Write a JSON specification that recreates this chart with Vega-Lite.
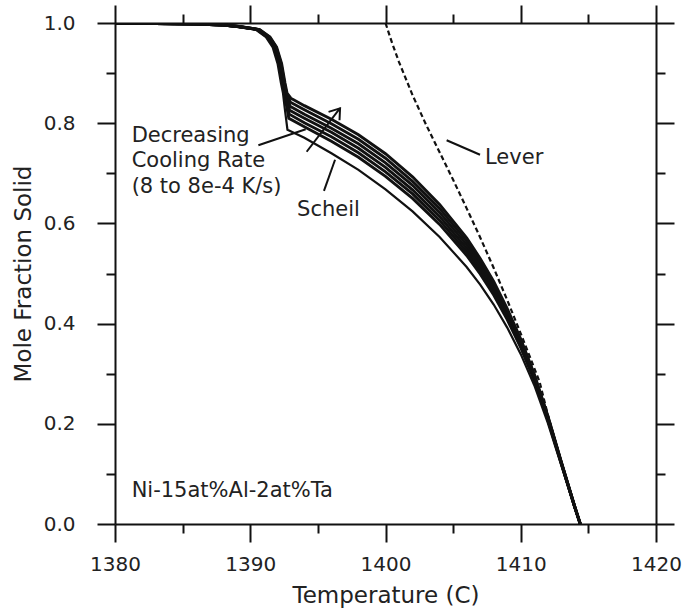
{
  "$schema": "https://vega.github.io/schema/vega-lite/v6.json",
  "width": 541,
  "height": 501,
  "autosize": {"type": "none"},
  "padding": {"left": 115, "top": 23, "right": 34, "bottom": 88},
  "background": "white",
  "config": {
    "font": "DejaVu Sans",
    "view": {"stroke": null},
    "axis": {
      "grid": false,
      "domainColor": "#111",
      "domainWidth": 2,
      "tickColor": "#111",
      "tickWidth": 2,
      "labelFontSize": 20,
      "labelColor": "#222",
      "labelFont": "DejaVu Sans",
      "titleFont": "DejaVu Sans",
      "titleFontSize": 23,
      "titleFontWeight": "normal",
      "titleColor": "#222",
      "labelOverlap": false,
      "labelFlush": false
    }
  },
  "datasets": {
    "curves": [
      {"s":"c0","T":1380,"fs":1},{"s":"c0","T":1383,"fs":0.999},{"s":"c0","T":1386,"fs":0.998},{"s":"c0","T":1388,"fs":0.996},{"s":"c0","T":1389.0,"fs":0.993},{"s":"c0","T":1390.5,"fs":0.987},{"s":"c0","T":1391.26,"fs":0.972},{"s":"c0","T":1391.75,"fs":0.952},{"s":"c0","T":1392.12,"fs":0.919},{"s":"c0","T":1392.37,"fs":0.88},{"s":"c0","T":1392.52,"fs":0.86},{"s":"c0","T":1392.85,"fs":0.81},{"s":"c0","T":1394,"fs":0.793},{"s":"c0","T":1396,"fs":0.764},{"s":"c0","T":1398,"fs":0.732},{"s":"c0","T":1400,"fs":0.694},{"s":"c0","T":1402,"fs":0.65},{"s":"c0","T":1404,"fs":0.598},{"s":"c0","T":1406,"fs":0.536},{"s":"c0","T":1407,"fs":0.499},{"s":"c0","T":1408,"fs":0.457},{"s":"c0","T":1409,"fs":0.408},{"s":"c0","T":1410,"fs":0.352},{"s":"c0","T":1411,"fs":0.287},{"s":"c0","T":1412,"fs":0.208},{"s":"c0","T":1413,"fs":0.12},{"s":"c0","T":1414,"fs":0.033},{"s":"c0","T":1414.4,"fs":0},
      {"s":"c1","T":1380,"fs":1},{"s":"c1","T":1383,"fs":0.999},{"s":"c1","T":1386,"fs":0.998},{"s":"c1","T":1388,"fs":0.996},{"s":"c1","T":1389.04,"fs":0.993},{"s":"c1","T":1390.54,"fs":0.987},{"s":"c1","T":1391.3,"fs":0.972},{"s":"c1","T":1391.79,"fs":0.952},{"s":"c1","T":1392.16,"fs":0.919},{"s":"c1","T":1392.41,"fs":0.88},{"s":"c1","T":1392.56,"fs":0.86},{"s":"c1","T":1392.88,"fs":0.818},{"s":"c1","T":1394,"fs":0.801},{"s":"c1","T":1396,"fs":0.773},{"s":"c1","T":1398,"fs":0.741},{"s":"c1","T":1400,"fs":0.703},{"s":"c1","T":1402,"fs":0.659},{"s":"c1","T":1404,"fs":0.606},{"s":"c1","T":1406,"fs":0.543},{"s":"c1","T":1407,"fs":0.505},{"s":"c1","T":1408,"fs":0.462},{"s":"c1","T":1409,"fs":0.412},{"s":"c1","T":1410,"fs":0.355},{"s":"c1","T":1411,"fs":0.289},{"s":"c1","T":1412,"fs":0.21},{"s":"c1","T":1413,"fs":0.121},{"s":"c1","T":1414,"fs":0.033},{"s":"c1","T":1414.4,"fs":0},
      {"s":"c2","T":1380,"fs":1},{"s":"c2","T":1383,"fs":0.999},{"s":"c2","T":1386,"fs":0.998},{"s":"c2","T":1388,"fs":0.996},{"s":"c2","T":1389.08,"fs":0.993},{"s":"c2","T":1390.58,"fs":0.987},{"s":"c2","T":1391.34,"fs":0.972},{"s":"c2","T":1391.83,"fs":0.952},{"s":"c2","T":1392.2,"fs":0.919},{"s":"c2","T":1392.45,"fs":0.88},{"s":"c2","T":1392.6,"fs":0.86},{"s":"c2","T":1392.91,"fs":0.826},{"s":"c2","T":1394,"fs":0.81},{"s":"c2","T":1396,"fs":0.782},{"s":"c2","T":1398,"fs":0.75},{"s":"c2","T":1400,"fs":0.712},{"s":"c2","T":1402,"fs":0.667},{"s":"c2","T":1404,"fs":0.614},{"s":"c2","T":1406,"fs":0.55},{"s":"c2","T":1407,"fs":0.511},{"s":"c2","T":1408,"fs":0.468},{"s":"c2","T":1409,"fs":0.417},{"s":"c2","T":1410,"fs":0.359},{"s":"c2","T":1411,"fs":0.292},{"s":"c2","T":1412,"fs":0.211},{"s":"c2","T":1413,"fs":0.122},{"s":"c2","T":1414,"fs":0.033},{"s":"c2","T":1414.4,"fs":0},
      {"s":"c3","T":1380,"fs":1},{"s":"c3","T":1383,"fs":0.999},{"s":"c3","T":1386,"fs":0.998},{"s":"c3","T":1388,"fs":0.996},{"s":"c3","T":1389.12,"fs":0.993},{"s":"c3","T":1390.62,"fs":0.987},{"s":"c3","T":1391.38,"fs":0.972},{"s":"c3","T":1391.87,"fs":0.952},{"s":"c3","T":1392.24,"fs":0.919},{"s":"c3","T":1392.49,"fs":0.88},{"s":"c3","T":1392.64,"fs":0.86},{"s":"c3","T":1392.94,"fs":0.834},{"s":"c3","T":1394,"fs":0.818},{"s":"c3","T":1396,"fs":0.79},{"s":"c3","T":1398,"fs":0.759},{"s":"c3","T":1400,"fs":0.721},{"s":"c3","T":1402,"fs":0.676},{"s":"c3","T":1404,"fs":0.622},{"s":"c3","T":1406,"fs":0.557},{"s":"c3","T":1407,"fs":0.518},{"s":"c3","T":1408,"fs":0.473},{"s":"c3","T":1409,"fs":0.421},{"s":"c3","T":1410,"fs":0.362},{"s":"c3","T":1411,"fs":0.294},{"s":"c3","T":1412,"fs":0.213},{"s":"c3","T":1413,"fs":0.122},{"s":"c3","T":1414,"fs":0.034},{"s":"c3","T":1414.4,"fs":0},
      {"s":"c4","T":1380,"fs":1},{"s":"c4","T":1383,"fs":0.999},{"s":"c4","T":1386,"fs":0.998},{"s":"c4","T":1388,"fs":0.996},{"s":"c4","T":1389.16,"fs":0.993},{"s":"c4","T":1390.66,"fs":0.987},{"s":"c4","T":1391.42,"fs":0.972},{"s":"c4","T":1391.91,"fs":0.952},{"s":"c4","T":1392.28,"fs":0.919},{"s":"c4","T":1392.53,"fs":0.88},{"s":"c4","T":1392.68,"fs":0.86},{"s":"c4","T":1392.97,"fs":0.842},{"s":"c4","T":1394,"fs":0.827},{"s":"c4","T":1396,"fs":0.799},{"s":"c4","T":1398,"fs":0.768},{"s":"c4","T":1400,"fs":0.73},{"s":"c4","T":1402,"fs":0.684},{"s":"c4","T":1404,"fs":0.63},{"s":"c4","T":1406,"fs":0.564},{"s":"c4","T":1407,"fs":0.524},{"s":"c4","T":1408,"fs":0.479},{"s":"c4","T":1409,"fs":0.426},{"s":"c4","T":1410,"fs":0.366},{"s":"c4","T":1411,"fs":0.297},{"s":"c4","T":1412,"fs":0.214},{"s":"c4","T":1413,"fs":0.123},{"s":"c4","T":1414,"fs":0.034},{"s":"c4","T":1414.4,"fs":0},
      {"s":"c5","T":1380,"fs":1},{"s":"c5","T":1383,"fs":0.999},{"s":"c5","T":1386,"fs":0.998},{"s":"c5","T":1388,"fs":0.996},{"s":"c5","T":1389.2,"fs":0.993},{"s":"c5","T":1390.7,"fs":0.987},{"s":"c5","T":1391.46,"fs":0.972},{"s":"c5","T":1391.95,"fs":0.952},{"s":"c5","T":1392.32,"fs":0.919},{"s":"c5","T":1392.57,"fs":0.88},{"s":"c5","T":1392.72,"fs":0.86},{"s":"c5","T":1393.0,"fs":0.85},{"s":"c5","T":1394,"fs":0.835},{"s":"c5","T":1396,"fs":0.808},{"s":"c5","T":1398,"fs":0.777},{"s":"c5","T":1400,"fs":0.739},{"s":"c5","T":1402,"fs":0.693},{"s":"c5","T":1404,"fs":0.638},{"s":"c5","T":1406,"fs":0.571},{"s":"c5","T":1407,"fs":0.53},{"s":"c5","T":1408,"fs":0.484},{"s":"c5","T":1409,"fs":0.43},{"s":"c5","T":1410,"fs":0.369},{"s":"c5","T":1411,"fs":0.299},{"s":"c5","T":1412,"fs":0.216},{"s":"c5","T":1413,"fs":0.124},{"s":"c5","T":1414,"fs":0.034},{"s":"c5","T":1414.4,"fs":0},
      {"s":"scheil","T":1380,"fs":1},{"s":"scheil","T":1383,"fs":0.999},{"s":"scheil","T":1386,"fs":0.998},{"s":"scheil","T":1388,"fs":0.996},{"s":"scheil","T":1388.9,"fs":0.993},{"s":"scheil","T":1390.4,"fs":0.987},{"s":"scheil","T":1391.16,"fs":0.972},{"s":"scheil","T":1391.65,"fs":0.952},{"s":"scheil","T":1392.02,"fs":0.919},{"s":"scheil","T":1392.27,"fs":0.88},{"s":"scheil","T":1392.42,"fs":0.86},{"s":"scheil","T":1392.55,"fs":0.83},{"s":"scheil","T":1392.75,"fs":0.787},{"s":"scheil","T":1394,"fs":0.771},{"s":"scheil","T":1396,"fs":0.74},{"s":"scheil","T":1398,"fs":0.707},{"s":"scheil","T":1400,"fs":0.668},{"s":"scheil","T":1402,"fs":0.624},{"s":"scheil","T":1404,"fs":0.573},{"s":"scheil","T":1406,"fs":0.513},{"s":"scheil","T":1407,"fs":0.478},{"s":"scheil","T":1408,"fs":0.438},{"s":"scheil","T":1409,"fs":0.392},{"s":"scheil","T":1410,"fs":0.339},{"s":"scheil","T":1411,"fs":0.277},{"s":"scheil","T":1412,"fs":0.202},{"s":"scheil","T":1413,"fs":0.117},{"s":"scheil","T":1414,"fs":0.032},{"s":"scheil","T":1414.4,"fs":0}
    ],
    "lever": [
      {"T":1400,"fs":1},{"T":1400.5,"fs":0.959},{"T":1401,"fs":0.922},{"T":1402,"fs":0.856},{"T":1403,"fs":0.797},{"T":1404,"fs":0.742},{"T":1405,"fs":0.687},{"T":1406,"fs":0.63},{"T":1407,"fs":0.572},{"T":1408,"fs":0.511},{"T":1409,"fs":0.447},{"T":1410,"fs":0.38},{"T":1410.7,"fs":0.332},{"T":1411.4,"fs":0.283},{"T":1412,"fs":0.218},{"T":1413,"fs":0.124},{"T":1414,"fs":0.034},{"T":1414.4,"fs":0}
    ],
    "annot": [
      {"g":"lead_dec","o":1,"T":1390.6,"fs":0.756},{"g":"lead_dec","o":2,"T":1394.1,"fs":0.788},
      {"g":"shaft","o":1,"T":1394.17,"fs":0.743},{"g":"shaft","o":2,"T":1396.64,"fs":0.83},
      {"g":"head","o":1,"T":1395.79,"fs":0.8226},{"g":"head","o":2,"T":1396.64,"fs":0.8297},{"g":"head","o":3,"T":1396.6,"fs":0.8058},
      {"g":"lead_scheil","o":1,"T":1396.27,"fs":0.727},{"g":"lead_scheil","o":2,"T":1395.45,"fs":0.665},
      {"g":"lead_lever","o":1,"T":1404.52,"fs":0.766},{"g":"lead_lever","o":2,"T":1406.99,"fs":0.737}
    ],
    "labels": [
      {"t":"Decreasing","T":1381.23,"fs":0.775},
      {"t":"Cooling Rate","T":1381.23,"fs":0.725},
      {"t":"(8 to 8e-4 K/s)","T":1381.23,"fs":0.673},
      {"t":"Scheil","T":1393.46,"fs":0.627},
      {"t":"Lever","T":1407.36,"fs":0.73},
      {"t":"Ni-15at%Al-2at%Ta","T":1381.23,"fs":0.066}
    ]
  },
  "layer": [
    {
      "data": {"name": "curves"},
      "transform": [{"filter": "datum.s !== 'scheil'"}],
      "mark": {"type": "line", "color": "#111", "strokeWidth": 2.9, "clip": true},
      "encoding": {
        "x": {
          "field": "T", "type": "quantitative",
          "scale": {"domain": [1380, 1420], "nice": false, "zero": false},
          "axis": {
            "orient": "bottom",
            "values": [1380, 1385, 1390, 1395, 1400, 1405, 1410, 1415, 1420],
            "format": "d",
            "labelExpr": "datum.value % 10 === 0 ? datum.label : ''",
            "tickSize": {"condition": {"test": "datum.value % 10 === 0", "value": 18}, "value": 9},
            "labelPadding": 12,
            "title": "Temperature (C)",
            "titlePadding": 10
          }
        },
        "y": {
          "field": "fs", "type": "quantitative",
          "scale": {"domain": [0, 1], "nice": false, "zero": false},
          "axis": {
            "orient": "left",
            "values": [0, 0.1, 0.2, 0.3, 0.4, 0.5, 0.6, 0.7, 0.8, 0.9, 1.0],
            "format": ".1f",
            "labelExpr": "round(datum.value * 10) % 2 === 0 ? datum.label : ''",
            "tickSize": {"condition": {"test": "round(datum.value * 10) % 2 === 0", "value": 18}, "value": 9},
            "labelPadding": 22,
            "title": "Mole Fraction Solid",
            "titlePadding": 8
          }
        },
        "detail": {"field": "s"}
      }
    },
    {
      "data": {"name": "curves"},
      "transform": [{"filter": "datum.s === 'scheil'"}],
      "mark": {"type": "line", "color": "#111", "strokeWidth": 2.2, "clip": true},
      "encoding": {
        "x": {"field": "T", "type": "quantitative", "axis": null},
        "y": {"field": "fs", "type": "quantitative", "axis": null}
      }
    },
    {
      "data": {"name": "lever"},
      "mark": {"type": "line", "color": "#111", "strokeWidth": 2.2, "strokeDash": [5, 3]},
      "encoding": {
        "x": {
          "field": "T", "type": "quantitative",
          "axis": {
            "orient": "top",
            "values": [1380, 1385, 1390, 1395, 1400, 1405, 1410, 1415, 1420],
            "labels": false,
            "tickSize": {"condition": {"test": "datum.value % 10 === 0", "value": 18}, "value": 9},
            "title": null
          }
        },
        "y": {
          "field": "fs", "type": "quantitative",
          "axis": {
            "orient": "right",
            "values": [0, 0.1, 0.2, 0.3, 0.4, 0.5, 0.6, 0.7, 0.8, 0.9, 1.0],
            "labels": false,
            "tickSize": {"condition": {"test": "round(datum.value * 10) % 2 === 0", "value": 18}, "value": 9},
            "title": null
          }
        }
      }
    },
    {
      "data": {"name": "annot"},
      "mark": {"type": "line", "color": "#111", "strokeWidth": 2},
      "encoding": {
        "x": {"field": "T", "type": "quantitative", "axis": null},
        "y": {"field": "fs", "type": "quantitative", "axis": null},
        "detail": {"field": "g"},
        "order": {"field": "o"}
      }
    },
    {
      "data": {"name": "labels"},
      "mark": {"type": "text", "align": "left", "baseline": "middle", "fontSize": 21, "font": "DejaVu Sans", "color": "#222"},
      "encoding": {
        "x": {"field": "T", "type": "quantitative", "axis": null},
        "y": {"field": "fs", "type": "quantitative", "axis": null},
        "text": {"field": "t"}
      }
    }
  ],
  "resolve": {"axis": {"x": "independent", "y": "independent"}}
}
